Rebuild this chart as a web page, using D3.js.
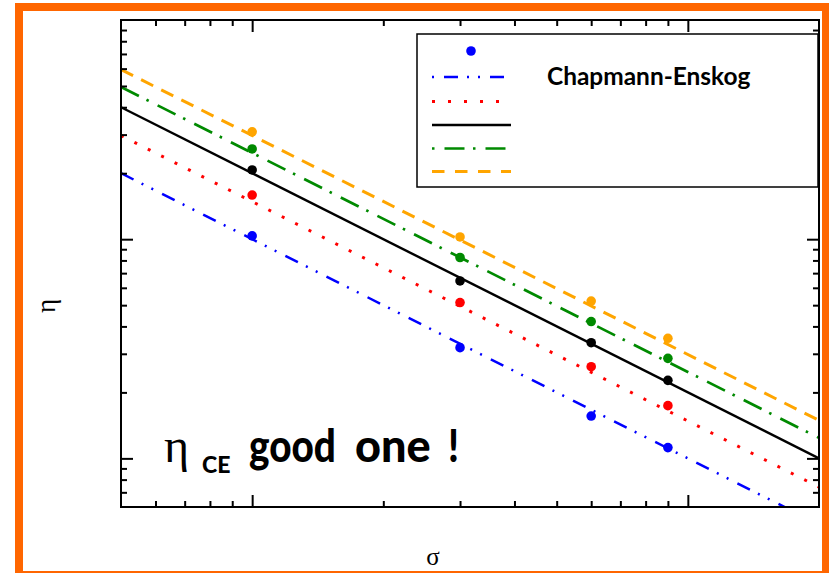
<!DOCTYPE html>
<html><head><meta charset="utf-8">
<script src="https://cdn.jsdelivr.net/npm/d3@7"></script>
<style>body{margin:0;background:#fff;} svg{display:block;}</style>
</head><body>
<svg id="chart" width="829" height="573"></svg>
<script>
// ---- data ----
const sigmaPoints = [10, 30, 60, 90];
const etaBlue   = [10.35, 3.20, 1.56, 1.12];
const etaRed    = [15.9, 5.14, 2.62, 1.74];
const etaBlack  = [20.7, 6.45, 3.37, 2.27];
const etaGreen  = [25.8, 8.25, 4.21, 2.86];
const etaOrange = [30.9, 10.24, 5.22, 3.53];

const fitSigma  = [5, 200];
const fitBlue   = [20.0, 0.50];
const fitRed    = [29.7, 0.74];
const fitBlack  = [40.0, 1.00];
const fitGreen  = [49.5, 1.24];
const fitOrange = [59.4, 1.49];

const xDomain = [5, 200];
const yDomain = [0.6, 100];
const xMajorTicks = [10, 100];
const xMinorTicks = [6, 7, 8, 9, 20, 30, 40, 50, 60, 70, 80, 90];
const yMajorTicks = [1, 10];
const yMinorTicks = [0.7, 0.8, 0.9, 2, 3, 4, 5, 6, 7, 8, 9, 20, 30, 40, 50, 60, 70, 80, 90];

const legendText = "Chapmann-Enskog";
const xLabel = "σ";
const yLabel = "η";
const noteMain = "η";
const noteSub = "CE";
const noteWords = ["good", "one", "!"];

// ---- styles ----
const styles = [
  {fit: fitBlue,   pts: etaBlue,   color: "#0000ff", width: 2.5, dash: "14,9,2,9,2,10", lgDash: "14,9,2,9,2,10", lgOff: 34},
  {fit: fitRed,    pts: etaRed,    color: "#ff0000", width: 3,   dash: "3,12", lgDash: "3,13", lgOff: 0},
  {fit: fitBlack,  pts: etaBlack,  color: "#000000", width: 2.4, dash: null, lgDash: null, lgOff: 0},
  {fit: fitGreen,  pts: etaGreen,  color: "#008a00", width: 2.7, dash: "20,8.5,2.5,10", lgDash: "20,8.5,2.5,10", lgOff: 28.5},
  {fit: fitOrange, pts: etaOrange, color: "#ffa500", width: 3,   dash: "13.5,9", lgDash: "12.5,10.5", lgOff: 0}
];

const svg = d3.select("#chart");
const L = 121, R = 819, T = 20, B = 507;
const x = d3.scaleLog().domain(xDomain).range([L, R]);
const y = d3.scaleLog().domain(yDomain).range([B, T]);

// orange frame
svg.append("rect").attr("x", 19).attr("y", 7).attr("width", 807).attr("height", 568)
  .attr("fill", "none").attr("stroke", "#ff6600").attr("stroke-width", 8);

svg.append("defs").append("clipPath").attr("id", "clip")
  .append("rect").attr("x", L).attr("y", T).attr("width", R - L).attr("height", B - T);

const plot = svg.append("g").attr("clip-path", "url(#clip)");
const line = d3.line().x(d => x(d[0])).y(d => y(d[1]));

styles.forEach(s => {
  plot.append("path")
    .attr("d", line(fitSigma.map((v, i) => [v, s.fit[i]])))
    .attr("fill", "none").attr("stroke", s.color).attr("stroke-width", s.width)
    .attr("stroke-dasharray", s.dash);
});
styles.forEach(s => {
  plot.selectAll(null).data(sigmaPoints.map((v, i) => [v, s.pts[i]])).enter()
    .append("circle").attr("cx", d => x(d[0])).attr("cy", d => y(d[1]))
    .attr("r", 4.8).attr("fill", s.color);
});

function drawAxis(gen, tr, vals, size) {
  const g = svg.append("g").attr("transform", tr)
    .call(gen.tickValues(vals).tickSize(-size).tickFormat(""));
  g.select(".domain").remove();
  g.selectAll(".tick line").attr("stroke", "#000").attr("stroke-width", 2);
}
drawAxis(d3.axisBottom(x), `translate(0,${B})`, xMajorTicks, 12);
drawAxis(d3.axisBottom(x), `translate(0,${B})`, xMinorTicks, 6);
drawAxis(d3.axisTop(x), `translate(0,${T})`, xMajorTicks, 12);
drawAxis(d3.axisTop(x), `translate(0,${T})`, xMinorTicks, 6);
drawAxis(d3.axisLeft(y), `translate(${L},0)`, yMajorTicks, 12);
drawAxis(d3.axisLeft(y), `translate(${L},0)`, yMinorTicks, 6);
drawAxis(d3.axisRight(y), `translate(${R},0)`, yMajorTicks, 12);
drawAxis(d3.axisRight(y), `translate(${R},0)`, yMinorTicks, 6);

svg.append("rect").attr("x", L).attr("y", T).attr("width", R - L).attr("height", B - T)
  .attr("fill", "none").attr("stroke", "#000").attr("stroke-width", 2);

// legend
const lg = svg.append("g");
lg.append("rect").attr("x", 417).attr("y", 34).attr("width", 401).attr("height", 153)
  .attr("fill", "#fff").attr("stroke", "#000").attr("stroke-width", 1.5);
lg.append("circle").attr("cx", 471).attr("cy", 51).attr("r", 4.8).attr("fill", styles[0].color);
const rowsY = [77, 101.5, 125, 148.5, 171.5];
styles.forEach((s, i) => {
  lg.append("line").attr("x1", 432).attr("x2", 511).attr("y1", rowsY[i]).attr("y2", rowsY[i])
    .attr("stroke", s.color).attr("stroke-width", s.width)
    .attr("stroke-dasharray", s.lgDash).attr("stroke-dashoffset", s.lgOff);
});

function fitWidth(t, target, base) {
  t.attr("font-size", base);
  const w = t.node().getBBox().width;
  t.attr("font-size", base * target / w);
}
const lt = lg.append("text").attr("x", 547).attr("y", 85).text(legendText)
  .attr("font-family", "Lato, 'Open Sans', sans-serif").attr("font-weight", "bold").attr("fill", "#000");
fitWidth(lt, 204, 20);

// axis labels
svg.append("text").attr("x", 433).attr("y", 565).attr("text-anchor", "middle")
  .attr("font-family", "'Liberation Serif', 'DejaVu Serif', serif").attr("font-size", 25).text(xLabel);
svg.append("text").attr("transform", "translate(55,306) rotate(-90)").attr("text-anchor", "middle")
  .attr("font-family", "'Liberation Serif', 'DejaVu Serif', serif").attr("font-size", 27).text(yLabel);

// annotation
svg.append("text").attr("x", 164).attr("y", 462)
  .attr("font-family", "'Liberation Serif', 'DejaVu Serif', serif").attr("font-size", 48).text(noteMain);

function squeezedFit(txt, px, py, size, targetW) {
  const t = svg.append("text")
    .attr("font-family", "Lato, sans-serif").attr("font-weight", "900").attr("font-size", size).text(txt);
  const bb = t.node().getBBox();
  const sx = Math.min(1, targetW / bb.width);
  t.attr("transform", `translate(${px},${py}) scale(${sx},1)`);
  return t;
}
const wordX = [249, 355, 448];
const wordW = [87, 77, 11];
noteWords.forEach((w, i) => squeezedFit(w, wordX[i], 462, 45, wordW[i]));
squeezedFit(noteSub, 202, 473, 23, 34);
</script>
</body></html>
